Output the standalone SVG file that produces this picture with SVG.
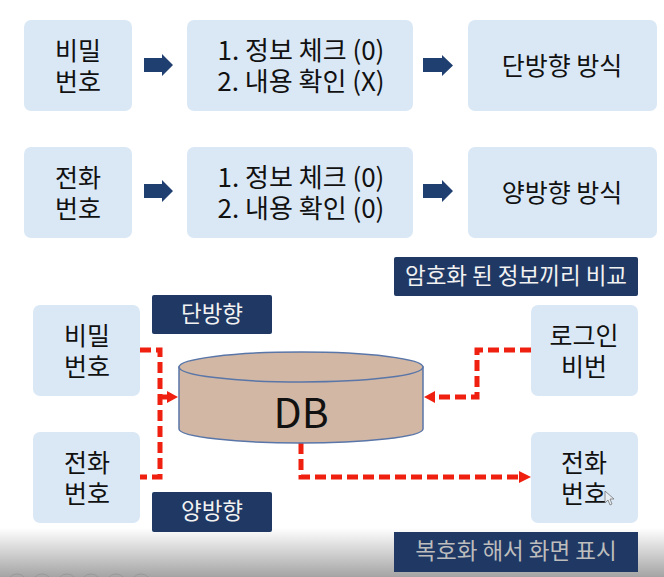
<svg xmlns="http://www.w3.org/2000/svg" width="664" height="577" viewBox="0 0 664 577">
<style>
.box{fill:#dae8f6}
.lab{fill:#1f3864}
text{font-family:"Noto Sans CJK KR","Noto Sans",sans-serif;text-anchor:middle}
.t{font-size:25px;fill:#111}
.m{font-size:26px;fill:#111}
.w{font-size:22.500px;fill:#f2f2f2}
.dash{fill:none;stroke:#f02010;stroke-width:5;stroke-dasharray:11 5}
.block{fill:#1f3f70}
.red{fill:#f02010}
</style>
<defs>
<linearGradient id="fade" x1="0" y1="0" x2="0" y2="1">
<stop offset="0" stop-color="#a4a4a4" stop-opacity="0"/>
<stop offset="1" stop-color="#a4a4a4" stop-opacity="1"/>
</linearGradient>
</defs>
<rect width="664" height="577" fill="#fff"/>
<rect x="0" y="528" width="664" height="49" fill="url(#fade)"/>
<g fill="none" stroke="#999" stroke-width="1"><circle cx="17" cy="584" r="10"/><circle cx="42" cy="584" r="10"/><circle cx="67" cy="584" r="10"/><circle cx="91" cy="584" r="10"/><circle cx="116" cy="584" r="10"/><circle cx="141" cy="584" r="10"/></g>
<g id="connectors">
<path class="block" d="M144 58H162V54L173 65L162 76V72H144Z"/>
<path class="block" d="M423 58H442V55L453 65.500L442 76V72H423Z"/>
<path class="block" d="M144 184H162V180L173 191L162 202V198H144Z"/>
<path class="block" d="M423 184H442V180L453 191L442 202V198H423Z"/>
<path class="dash" d="M140 350H160V477H140"/>
<path class="dash" d="M158 397H168" stroke-dasharray="none"/>
<path class="red" d="M167 391L178 397L167 403Z"/>
<path class="dash" d="M531 350H477V397H436"/>
<path class="red" d="M424 397L435 391V403Z"/>
<path class="dash" d="M301 443V477H520"/>
<path class="red" d="M519 471L531 477L519 483Z"/>
</g>
<g id="n-pw1"><rect class="box" x="24" y="20" width="108" height="91" rx="7"/><text class="t" y="60"><tspan x="78">비밀</tspan><tspan x="78" dy="31">번호</tspan></text></g>
<g id="n-check1"><rect class="box" x="187" y="20" width="226" height="91" rx="7"/><text class="m" y="60"><tspan x="301">1. 정보 체크 (0)</tspan><tspan x="301" dy="31">2. 내용 확인 (X)</tspan></text></g>
<g id="n-oneway"><rect class="box" x="468" y="20" width="189" height="91" rx="7"/><text class="t" x="562" y="75">단방향 방식</text></g>
<g id="n-ph1"><rect class="box" x="24" y="147" width="108" height="91" rx="7"/><text class="t" y="187"><tspan x="78">전화</tspan><tspan x="78" dy="31">번호</tspan></text></g>
<g id="n-check2"><rect class="box" x="187" y="147" width="226" height="91" rx="7"/><text class="m" y="187"><tspan x="301">1. 정보 체크 (0)</tspan><tspan x="301" dy="31">2. 내용 확인 (0)</tspan></text></g>
<g id="n-twoway"><rect class="box" x="468" y="147" width="189" height="91" rx="7"/><text class="t" x="562" y="202">양방향 방식</text></g>
<g id="n-compare"><rect class="lab" x="394" y="257" width="244" height="39" rx="2"/><text class="w" x="516" y="284">암호화 된 정보끼리 비교</text></g>
<g id="n-lab1"><rect class="lab" x="152" y="295" width="120" height="39" rx="2"/><text class="w" x="212" y="322">단방향</text></g>
<g id="n-pw2"><rect class="box" x="33" y="305" width="107" height="91" rx="7"/><text class="t" y="345"><tspan x="87">비밀</tspan><tspan x="87" dy="31">번호</tspan></text></g>
<g id="n-login"><rect class="box" x="531" y="305" width="107" height="91" rx="7"/><text class="t" y="345"><tspan x="584">로그인</tspan><tspan x="584" dy="31">비번</tspan></text></g>
<g id="n-db">
<path d="M179 367V429C179 437 240 443 301 443S423 437 423 429V367Z" fill="#d2b7a4" stroke="#5a76a8" stroke-width="1.500"/>
<ellipse cx="301" cy="367" rx="122" ry="15" fill="#d2b7a4" stroke="#5a76a8" stroke-width="1.500"/>
<text x="301" y="428" font-size="41" fill="#111">DB</text>
</g>
<g id="n-ph2"><rect class="box" x="33" y="432" width="107" height="91" rx="7"/><text class="t" y="472"><tspan x="87">전화</tspan><tspan x="87" dy="31">번호</tspan></text></g>
<g id="n-ph3"><rect class="box" x="531" y="432" width="107" height="91" rx="7"/><text class="t" y="472"><tspan x="584">전화</tspan><tspan x="584" dy="31">번호</tspan></text></g>
<g id="n-lab2"><rect class="lab" x="152" y="492" width="120" height="40" rx="2"/><text class="w" x="212" y="519">양방향</text></g>
<g id="n-decrypt"><rect class="lab" x="394" y="532" width="244" height="40"/><text x="516" y="559" font-size="22.500" fill="#bdbdbd">복호화 해서 화면 표시</text></g>
<path d="M605 491V503L608 500L610 505L612 504L610 499L614 499Z" fill="#e8eef5" stroke="#777" stroke-width="0.800"/>
</svg>
